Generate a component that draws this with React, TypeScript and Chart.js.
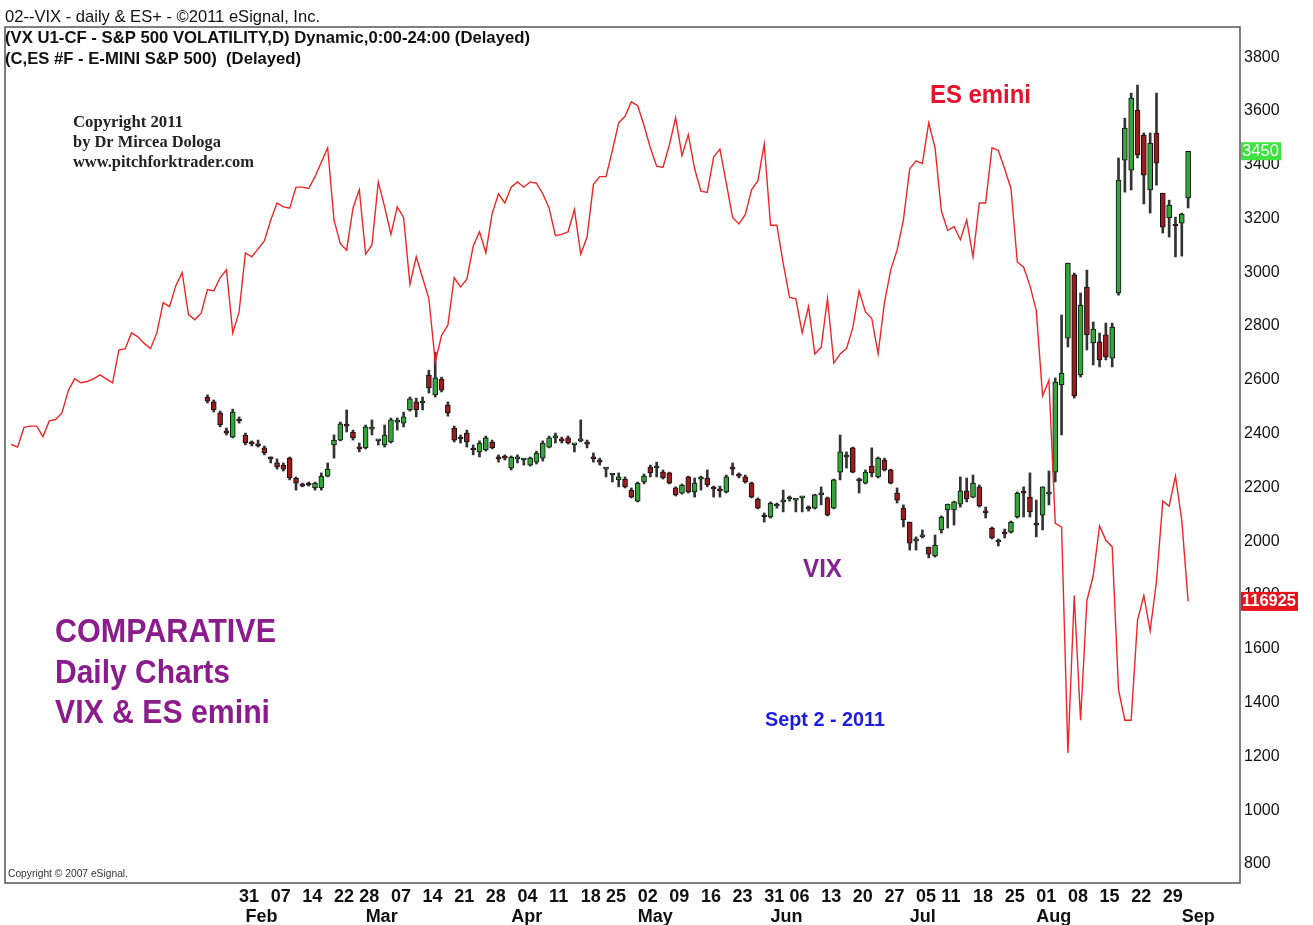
import React, { useEffect, useRef } from 'react';
import { Chart, registerables } from 'chart.js';

Chart.register(...registerables);

// x values are trading-day numbers counted from Mon 31 Jan 2011 (= 0)
const esStartDay = -36;
const esClose = [
  1229, 1228, 1235.5, 1236, 1236, 1232, 1238, 1238.5, 1241, 1249.5,
  1254, 1252.5, 1253, 1254, 1255.5, 1254, 1252.5, 1265, 1265.5, 1271.5,
  1270, 1267.5, 1265.5, 1271.5, 1283, 1281.5, 1289.5, 1294.5, 1278.5, 1276.5,
  1279, 1288, 1287.5, 1292.5, 1295.5, 1271.5,
  1279.5, 1302, 1300.5, 1303.5, 1306.5, 1314.5, 1321, 1319.5, 1319, 1327,
  1327, 1326.5, 1331, 1336.5, 1342, 1314.5, 1305.5, 1303, 1319, 1326,
  1301.5, 1305, 1329, 1319.5, 1309, 1319.5, 1315.5, 1290, 1300.5, 1292.5,
  1284.5, 1260.5, 1270.5, 1274.5, 1292.5, 1289, 1292, 1304.5, 1310, 1302,
  1317, 1324.5, 1321, 1327, 1329, 1327, 1329, 1328.5, 1324.5, 1319,
  1308.5, 1309, 1310, 1318.5, 1301.5, 1308, 1328, 1331, 1331, 1341,
  1351.5, 1354, 1359.5, 1358, 1350.5, 1342, 1335, 1334.5, 1343, 1353.5,
  1339, 1347, 1334, 1325.5, 1325, 1338.5, 1341.5, 1328.5, 1315.5, 1313,
  1316.5, 1326, 1329.5, 1343.5, 1312.5, 1312.5, 1298, 1285, 1284.5, 1271.5,
  1281.5, 1263.5, 1266, 1284.5, 1260, 1263.5, 1265.5, 1273.5, 1287.5, 1279.5,
  1277, 1263.5, 1283, 1295.5, 1303, 1314.5, 1334, 1337, 1336, 1351.5,
  1342, 1318, 1310.5, 1312, 1307, 1314.5, 1300.5, 1321, 1321, 1342,
  1341, 1334, 1326.5, 1298.5, 1296.5, 1289.5, 1280, 1247.5, 1253.5, 1199,
  1197.5, 1111.5, 1171.5, 1124, 1169.5, 1179, 1198, 1192.5, 1190, 1135.5,
  1124, 1124, 1162, 1171.5, 1158, 1177, 1207.5, 1205.5, 1217, 1200,
  1169.25,
];

const vixStartDay = -5;
const vixOpen = [
  2536, 2518, 2477, 2410, 2387, 2454, 2395, 2369, 2362, 2347,
  2309, 2291, 2283, 2309, 2235, 2209, 2213, 2198, 2198, 2242,
  2358, 2376, 2435, 2406, 2350, 2347, 2417, 2373, 2358, 2369,
  2443, 2439, 2488, 2518, 2514, 2618, 2544, 2603, 2506, 2421,
  2384, 2402, 2343, 2332, 2339, 2369, 2309, 2313, 2272, 2306,
  2302, 2283, 2294, 2309, 2350, 2384, 2376, 2384, 2358, 2373,
  2365, 2309, 2298, 2268, 2246, 2228, 2231, 2190, 2149, 2220,
  2276, 2272, 2257, 2254, 2198, 2179, 2239, 2183, 2231, 2235,
  2198, 2190, 2183, 2272, 2246, 2239, 2216, 2157, 2094, 2090,
  2131, 2146, 2157, 2153, 2161, 2123, 2123, 2172, 2161, 2123,
  2257, 2313, 2347, 2228, 2216, 2279, 2239, 2302, 2265, 2179,
  2123, 2071, 2001, 2016, 1978, 1945, 2042, 2116, 2116, 2138,
  2187, 2164, 2202, 2109, 2049, 1997, 2030, 2034, 2090, 2183,
  2164, 2064, 2097, 2175, 2257, 2581, 2755, 2990, 2618, 2945,
  2737, 2741, 2767, 2681, 2923, 3417, 3380, 3603, 3510, 3306,
  3518, 3294, 3202, 3176, 3183, 3276,
];
const vixHigh = [
  2544, 2525, 2484, 2421, 2491, 2462, 2402, 2373, 2376, 2354,
  2313, 2306, 2291, 2313, 2239, 2216, 2220, 2220, 2254, 2291,
  2395, 2443, 2488, 2413, 2365, 2432, 2451, 2376, 2432, 2458,
  2458, 2480, 2536, 2532, 2536, 2636, 2703, 2610, 2518, 2428,
  2395, 2413, 2358, 2373, 2391, 2376, 2321, 2321, 2317, 2321,
  2306, 2313, 2335, 2373, 2391, 2402, 2387, 2391, 2361, 2451,
  2376, 2328, 2309, 2272, 2250, 2254, 2239, 2198, 2220, 2250,
  2283, 2294, 2265, 2257, 2202, 2213, 2242, 2235, 2242, 2265,
  2205, 2205, 2246, 2291, 2254, 2246, 2220, 2161, 2105, 2146,
  2142, 2190, 2168, 2157, 2164, 2131, 2175, 2202, 2164, 2231,
  2395, 2332, 2350, 2235, 2265, 2347, 2313, 2309, 2268, 2198,
  2135, 2071, 2016, 2042, 1978, 2023, 2094, 2138, 2149, 2239,
  2235, 2246, 2209, 2127, 2053, 2008, 2045, 2075, 2183, 2202,
  2254, 2153, 2202, 2261, 2607, 2841, 3034, 2997, 2923, 3008,
  2815, 2774, 2811, 2811, 3425, 3573, 3666, 3696, 3518, 3518,
  3666, 3294, 3268, 3205, 3220, 3450,
];
const vixLow = [
  2514, 2480, 2425, 2395, 2384, 2439, 2358, 2354, 2350, 2321,
  2291, 2268, 2261, 2228, 2190, 2202, 2205, 2190, 2190, 2239,
  2309, 2373, 2406, 2376, 2332, 2343, 2395, 2358, 2350, 2365,
  2413, 2425, 2484, 2462, 2488, 2551, 2536, 2555, 2465, 2369,
  2365, 2350, 2321, 2313, 2335, 2343, 2294, 2302, 2265, 2291,
  2283, 2279, 2287, 2298, 2347, 2365, 2365, 2361, 2332, 2369,
  2347, 2294, 2283, 2239, 2220, 2202, 2198, 2161, 2146, 2213,
  2239, 2239, 2231, 2213, 2168, 2175, 2179, 2164, 2190, 2202,
  2164, 2164, 2179, 2246, 2235, 2216, 2161, 2120, 2071, 2086,
  2123, 2109, 2149, 2109, 2109, 2112, 2120, 2135, 2094, 2120,
  2228, 2272, 2254, 2179, 2213, 2239, 2235, 2261, 2213, 2142,
  2053, 1967, 1967, 2012, 1938, 1941, 2030, 2049, 2060, 2127,
  2146, 2161, 2127, 2086, 2008, 1982, 2012, 2030, 2086, 2090,
  2090, 2016, 2042, 2135, 2220, 2395, 2722, 2532, 2610, 2711,
  2655, 2648, 2674, 2648, 2915, 3298, 3306, 3425, 3254, 3220,
  3324, 3146, 3131, 3057, 3060, 3239,
];
const vixClose = [
  2521, 2488, 2432, 2402, 2480, 2447, 2365, 2362, 2354, 2328,
  2306, 2276, 2268, 2235, 2216, 2205, 2209, 2216, 2242, 2268,
  2376, 2436, 2428, 2384, 2343, 2425, 2424, 2376, 2395, 2451,
  2450, 2462, 2529, 2488, 2521, 2570, 2607, 2562, 2477, 2376,
  2380, 2369, 2339, 2365, 2384, 2347, 2306, 2309, 2313, 2309,
  2306, 2309, 2328, 2365, 2384, 2387, 2373, 2365, 2361, 2376,
  2361, 2306, 2294, 2272, 2250, 2239, 2202, 2164, 2216, 2242,
  2254, 2276, 2235, 2216, 2172, 2209, 2183, 2216, 2235, 2209,
  2194, 2187, 2239, 2268, 2242, 2220, 2164, 2123, 2090, 2142,
  2135, 2149, 2161, 2157, 2164, 2120, 2172, 2175, 2097, 2228,
  2332, 2317, 2257, 2224, 2257, 2254, 2309, 2265, 2216, 2153,
  2079, 1993, 2004, 2019, 1952, 1986, 2090, 2138, 2146, 2187,
  2157, 2216, 2131, 2105, 2012, 2001, 2027, 2071, 2179, 2179,
  2109, 2060, 2202, 2179, 2592, 2625, 3034, 2540, 2878, 2767,
  2789, 2674, 2685, 2796, 3343, 3536, 3648, 3436, 3361, 3480,
  3406, 3168, 3250, 3172, 3216, 3450,
];

const dayTickPos = [0, 5, 10, 15, 19, 24, 29, 34, 39, 44, 49, 54, 58, 63, 68, 73, 78, 83, 87, 92, 97, 102, 107, 111, 116, 121, 126, 131, 136, 141, 146];
const dayTickLabels = ['31', '07', '14', '22', '28', '07', '14', '21', '28', '04', '11', '18', '25', '02', '09', '16', '23', '31', '06', '13', '20', '27', '05', '11', '18', '25', '01', '08', '15', '22', '29'];
const monthTickPos = [1, 20, 43, 63, 84, 106, 126, 149];
const monthTickLabels = ['Feb', 'Mar', 'Apr', 'May', 'Jun', 'Jul', 'Aug', 'Sep'];
const yTickValues = [800, 1000, 1200, 1400, 1600, 1800, 2000, 2200, 2400, 2600, 2800, 3000, 3200, 3400, 3600, 3800];

const GREEN = '#33a638';
const RED = '#9a1c1f';

function drawText(ctx: CanvasRenderingContext2D, s: string, x: number, y: number, font: string, color: string, w: number) {
  ctx.save();
  ctx.font = font;
  ctx.fillStyle = color;
  ctx.textBaseline = 'middle';
  ctx.textAlign = 'left';
  const nat = ctx.measureText(s).width;
  ctx.translate(x, y);
  ctx.scale(w / nat, 1);
  ctx.fillText(s, 0, 0);
  ctx.restore();
}

const overlayPlugin = {
  id: 'overlay',
  beforeDraw(chart: any) {
    const { ctx, width, height } = chart;
    ctx.save();
    ctx.fillStyle = '#ffffff';
    ctx.fillRect(0, 0, width, height);
    ctx.restore();
  },
  afterDraw(chart: any) {
    const { ctx, chartArea: a } = chart;
    ctx.save();
    ctx.strokeStyle = '#555';
    ctx.lineWidth = 1.5;
    ctx.strokeRect(a.left, a.top, a.right - a.left, a.bottom - a.top);
    ctx.restore();

    const sans = "'Liberation Sans', Arial, sans-serif";
    const serif = "'Liberation Serif', 'Times New Roman', serif";
    drawText(ctx, '02--VIX - daily & ES+ - \u00A92011 eSignal, Inc.', 5, 17, `17px ${sans}`, '#111', 315);
    drawText(ctx, '(VX U1-CF - S&P 500 VOLATILITY,D) Dynamic,0:00-24:00 (Delayed)', 5, 38, `bold 17px ${sans}`, '#111', 525);
    drawText(ctx, '(C,ES #F - E-MINI S&P 500)  (Delayed)', 5, 59, `bold 17px ${sans}`, '#111', 296);

    drawText(ctx, 'Copyright 2011', 73, 123, `bold 16px ${serif}`, '#222', 110);
    drawText(ctx, 'by Dr Mircea Dologa', 73, 143, `bold 16px ${serif}`, '#222', 148);
    drawText(ctx, 'www.pitchforktrader.com', 73, 163, `bold 16px ${serif}`, '#222', 181);

    drawText(ctx, 'ES emini', 930, 96, `bold 26px ${sans}`, '#e8102a', 101);
    drawText(ctx, 'VIX', 803, 570, `bold 26px ${sans}`, '#842292', 39);
    drawText(ctx, 'COMPARATIVE', 55, 633, `bold 33px ${sans}`, '#8b1c8c', 221);
    drawText(ctx, 'Daily Charts', 55, 674, `bold 33px ${sans}`, '#8b1c8c', 175);
    drawText(ctx, 'VIX & ES emini', 55, 714, `bold 33px ${sans}`, '#8b1c8c', 215);
    drawText(ctx, 'Sept 2 - 2011', 765, 720, `bold 21px ${sans}`, '#1c1ce0', 120);
    drawText(ctx, 'Copyright \u00A9 2007 eSignal.', 8, 874, `11px ${sans}`, '#333', 120);

    // last-value tags on the right axis
    const lastV = vixClose[vixClose.length - 1];
    const lastE = esClose[esClose.length - 1];
    const yv = chart.scales.y.getPixelForValue(lastV);
    const ye = chart.scales.yES.getPixelForValue(lastE);
    ctx.save();
    ctx.fillStyle = '#3ee23e';
    ctx.fillRect(a.right + 1, yv - 9, 40, 18);
    ctx.fillStyle = '#e8141c';
    ctx.fillRect(a.right + 1, ye - 9.5, 57, 19);
    ctx.restore();
    drawText(ctx, String(lastV), a.right + 2, yv, `16px ${sans}`, '#ffffff', 37);
    drawText(ctx, (lastE * 100).toFixed(0), a.right + 2, ye, `bold 16px ${sans}`, '#ffffff', 54);
  },
};

export default function App() {
  const ref = useRef<HTMLCanvasElement>(null);
  useEffect(() => {
    const esData = esClose.map((v, i) => ({ x: esStartDay + i, y: v }));
    const bodyData = vixOpen.map((o, i) => ({ x: vixStartDay + i, y: [o, vixClose[i]] }));
    const wickData = vixLow.map((l, i) => ({ x: vixStartDay + i, y: [l, vixHigh[i]] }));
    const bodyColors = vixOpen.map((o, i) => (vixClose[i] >= o ? GREEN : RED));
    const tickFontX = { family: "'Liberation Sans Narrow', 'Arial Narrow', 'Liberation Sans', Arial, sans-serif", size: 18, weight: 'bold' as const };

    const chart = new Chart(ref.current as HTMLCanvasElement, {
      type: 'bar',
      data: {
        datasets: [
          {
            type: 'line',
            label: 'ES',
            data: esData as any,
            xAxisID: 'x',
            yAxisID: 'yES',
            borderColor: '#ef2626',
            borderWidth: 1.4,
            pointRadius: 0,
            tension: 0,
            order: 0,
          } as any,
          {
            type: 'bar',
            label: 'VIX body',
            data: bodyData as any,
            xAxisID: 'x',
            yAxisID: 'y',
            backgroundColor: bodyColors,
            borderColor: '#111',
            borderWidth: 1,
            borderSkipped: false,
            barThickness: 5,
            minBarLength: 2,
            grouped: false,
            order: 1,
          } as any,
          {
            type: 'bar',
            label: 'VIX wick',
            data: wickData as any,
            xAxisID: 'x',
            yAxisID: 'y',
            backgroundColor: '#333',
            borderWidth: 0,
            barThickness: 2,
            grouped: false,
            order: 2,
          } as any,
        ],
      },
      options: {
        animation: false,
        responsive: false,
        layout: { padding: { top: 27, left: 5, right: 0, bottom: 0 } },
        plugins: { legend: { display: false }, tooltip: { enabled: false } },
        scales: {
          x: {
            type: 'linear',
            position: 'bottom',
            min: -37,
            max: 158.2,
            offset: false,
            weight: 0,
            grid: { display: false, drawTicks: false },
            border: { display: false },
            afterBuildTicks: (s: any) => { s.ticks = dayTickPos.map((v) => ({ value: v })); },
            afterFit: (s: any) => { s.height = 21; },
            ticks: {
              autoSkip: false,
              maxRotation: 0,
              minRotation: 0,
              align: 'start',
              padding: 3,
              color: '#111',
              font: tickFontX,
              callback: (v: any) => { const i = dayTickPos.indexOf(Number(v)); return i >= 0 ? dayTickLabels[i] : ''; },
            },
          },
          xm: {
            type: 'linear',
            position: 'bottom',
            min: -37,
            max: 158.2,
            offset: false,
            weight: 1,
            grid: { display: false, drawTicks: false },
            border: { display: false },
            afterBuildTicks: (s: any) => { s.ticks = monthTickPos.map((v) => ({ value: v })); },
            afterFit: (s: any) => { s.height = 21; },
            ticks: {
              autoSkip: false,
              maxRotation: 0,
              minRotation: 0,
              align: 'start',
              padding: 2,
              color: '#111',
              font: tickFontX,
              callback: (v: any) => { const i = monthTickPos.indexOf(Number(v)); return i >= 0 ? monthTickLabels[i] : ''; },
            },
          },
          y: {
            type: 'linear',
            position: 'right',
            min: 729,
            max: 3912,
            grid: { display: false, drawTicks: false },
            border: { display: false },
            afterBuildTicks: (s: any) => { s.ticks = yTickValues.map((v) => ({ value: v })); },
            afterFit: (s: any) => { s.width = 73; },
            ticks: {
              padding: 4,
              color: '#111',
              font: { family: "'Liberation Sans', Arial, sans-serif", size: 16 },
              callback: (v: any) => String(v),
            },
          },
          yES: {
            type: 'linear',
            position: 'right',
            display: false,
            min: 1062,
            max: 1388,
          },
        },
      } as any,
      plugins: [overlayPlugin],
    });
    return () => chart.destroy();
  }, []);

  return (
    <div style={{ position: 'fixed', left: 0, top: 0, width: 1313, height: 925, background: '#fff' }}>
      <canvas ref={ref} width={1313} height={925} style={{ display: 'block', width: 1313, height: 925 }} />
    </div>
  );
}
